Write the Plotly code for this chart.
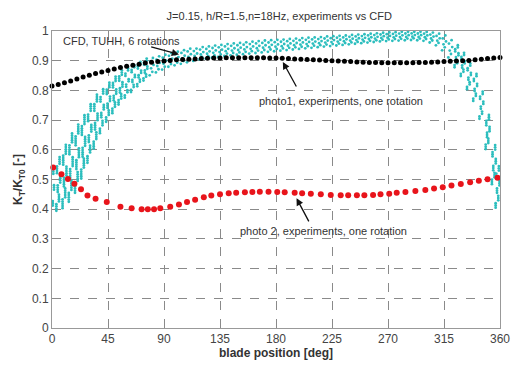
import plotly.graph_objects as go

# ---------------- data ----------------
# CFD (TUHH, 6 rotations): envelope of the cyan band per blade position
cfd_x = [0, 5, 10, 15, 20, 25, 30, 35, 40, 45, 50, 55, 60, 65, 70, 75, 80, 85, 90, 95,
         100, 105, 110, 115, 120, 125, 130, 135, 140, 145, 150, 155, 160, 165, 170, 175,
         180, 185, 190, 195, 200, 205, 210, 215, 220, 225, 230, 235, 240, 245, 250, 255,
         260, 265, 270, 275, 280, 285, 290, 295, 300, 305, 310, 315, 320, 325, 330, 335,
         340, 345, 350, 355, 358]
cfd_lo = [0.38, 0.39, 0.40, 0.42, 0.45, 0.50, 0.55, 0.60, 0.65, 0.69, 0.72, 0.75, 0.77, 0.79,
          0.81, 0.83, 0.845, 0.855, 0.865, 0.875, 0.88, 0.885, 0.89, 0.895, 0.90, 0.903,
          0.906, 0.909, 0.912, 0.914, 0.916, 0.918, 0.92, 0.922, 0.924, 0.926, 0.928, 0.93,
          0.932, 0.934, 0.936, 0.938, 0.94, 0.942, 0.944, 0.946, 0.948, 0.95, 0.952, 0.954,
          0.956, 0.958, 0.96, 0.962, 0.963, 0.964, 0.965, 0.966, 0.967, 0.966, 0.964, 0.958,
          0.948, 0.93, 0.905, 0.875, 0.845, 0.80, 0.76, 0.70, 0.60, 0.48, 0.40]
cfd_hi = [0.54, 0.58, 0.62, 0.66, 0.69, 0.72, 0.76, 0.79, 0.81, 0.83, 0.85, 0.87, 0.88, 0.89,
          0.90, 0.91, 0.915, 0.92, 0.925, 0.93, 0.935, 0.94, 0.945, 0.945, 0.95, 0.952,
          0.955, 0.957, 0.96, 0.962, 0.964, 0.966, 0.968, 0.97, 0.972, 0.973, 0.974, 0.975,
          0.977, 0.978, 0.98, 0.981, 0.982, 0.983, 0.985, 0.986, 0.987, 0.988, 0.99, 0.991,
          0.992, 0.994, 0.995, 0.997, 0.998, 0.999, 1.0, 1.0, 1.0, 1.0, 1.0, 0.998,
          0.995, 0.99, 0.975, 0.955, 0.93, 0.895, 0.86, 0.80, 0.72, 0.62, 0.55]
n_rot = 6

# photo1, experiments, one rotation (black)
p1_x = list(range(0, 361, 5))
p1_y = [0.815, 0.820, 0.826, 0.832, 0.838, 0.845, 0.851, 0.857, 0.862, 0.867, 0.872, 0.877,
        0.881, 0.885, 0.888, 0.892, 0.895, 0.897, 0.899, 0.901, 0.903, 0.904, 0.905, 0.906,
        0.907, 0.908, 0.909, 0.909, 0.910, 0.910, 0.910, 0.910, 0.910, 0.910, 0.910, 0.909,
        0.909, 0.908, 0.907, 0.906, 0.905, 0.904, 0.903, 0.902, 0.901, 0.900, 0.899, 0.898,
        0.897, 0.896, 0.895, 0.894, 0.894, 0.893, 0.893, 0.893, 0.893, 0.893, 0.893, 0.894,
        0.894, 0.895, 0.896, 0.897, 0.898, 0.899, 0.900, 0.901, 0.903, 0.905, 0.907, 0.909,
        0.911]

# photo 2, experiments, one rotation (red)
p2_x = [1, 7.6, 12.8, 18, 23.3, 28.5, 35, 44, 55, 64, 72, 77, 82, 87, 95, 102, 108.5, 115,
        122, 128, 135, 142, 148, 155, 161, 167, 174, 181, 187, 195, 201, 208, 216, 224, 232,
        238, 245, 251, 258, 264, 271, 277, 284, 292, 300, 307, 314, 321, 328.5, 336, 343,
        350, 358]
p2_y = [0.540, 0.518, 0.502, 0.486, 0.467, 0.446, 0.435, 0.424, 0.408, 0.403, 0.400, 0.400,
        0.400, 0.403, 0.408, 0.416, 0.424, 0.432, 0.440, 0.446, 0.450, 0.454, 0.455, 0.457,
        0.458, 0.459, 0.459, 0.458, 0.457, 0.455, 0.454, 0.452, 0.450, 0.448, 0.447, 0.447,
        0.447, 0.447, 0.448, 0.450, 0.452, 0.455, 0.458, 0.461, 0.465, 0.470, 0.474, 0.480,
        0.485, 0.491, 0.496, 0.501, 0.506]

x_ticks = [0, 45, 90, 135, 180, 225, 270, 315, 360]
y_ticks = [0, 0.1, 0.2, 0.3, 0.4, 0.5, 0.6, 0.7, 0.8, 0.9, 1]

# ---------------- figure ----------------
fig = go.Figure()

# pixel scale of the y axis (plot height 308 px for 1.0)
PX = 1.0 / 308
rot_shift = [-1.5, 0.6, -0.4, 1.6, -1.0, 1.1]   # horizontal jitter per rotation (deg)

cx, cy = [], []
for k in range(n_rot):
    for x, lo, hi in zip(cfd_x, cfd_lo, cfd_hi):
        xc = x + rot_shift[k]
        yc = lo + (hi - lo) * (k + 0.5) / n_rot
        dash_px = min(12, max(2, (hi - lo) / PX / n_rot * 0.95))
        nd = max(1, int(round(dash_px / 2.3)))
        for j in range(nd):
            cx.append(xc)
            cy.append(yc + (j - (nd - 1) / 2) * 2.3 * PX)
fig.add_trace(go.Scatter(
    x=cx, y=cy, mode="markers",
    marker=dict(symbol="circle", size=2.8, color="#2CBEBE", line=dict(width=0)),
    showlegend=False, hoverinfo="skip"))

fig.add_trace(go.Scatter(
    x=p1_x, y=p1_y, mode="markers", cliponaxis=False,
    marker=dict(color="black", size=5), showlegend=False))
fig.add_trace(go.Scatter(
    x=p2_x, y=p2_y, mode="markers", cliponaxis=False,
    marker=dict(color="#E8141B", size=6), showlegend=False))

txt_font = dict(family="Liberation Sans, Arial, sans-serif", size=11, color="#333")

fig.add_annotation(x=7.5, y=0.965, xref="x", yref="y", text="CFD, TUHH, 6 rotations",
                   showarrow=False, xanchor="left", yanchor="middle", font=txt_font)
fig.add_annotation(x=232, y=0.766, xref="x", yref="y", text="photo1, experiments, one rotation",
                   showarrow=False, xanchor="center", yanchor="middle", font=txt_font)
fig.add_annotation(x=218, y=0.328, xref="x", yref="y", text="photo 2, experiments, one rotation",
                   showarrow=False, xanchor="center", yanchor="middle", font=txt_font)
for (tx, ty, hx, hy) in [(78.5, 0.948, 102, 0.921), (197, 0.808, 185.5, 0.896),
                         (207, 0.354, 196.5, 0.437)]:
    fig.add_annotation(x=hx, y=hy, ax=tx, ay=ty, xref="x", yref="y", axref="x", ayref="y",
                       text="", showarrow=True, arrowhead=2, arrowsize=1.1,
                       arrowwidth=1.3, arrowcolor="#111")

fig.update_layout(
    width=522, height=369,
    margin=dict(l=52, r=12, t=31, b=30),
    paper_bgcolor="white", plot_bgcolor="white",
    font=dict(family="Liberation Sans, Arial, sans-serif", size=12, color="#333"),
    title=dict(text="J=0.15, h/R=1.5,n=18Hz, experiments vs CFD",
               x=0.535, xanchor="center", y=0.955, yanchor="middle",
               font=dict(size=11, color="#333")),
)
fig.update_xaxes(range=[0, 360], tickvals=x_ticks, ticktext=[str(t) for t in x_ticks],
                 showgrid=True, gridcolor="#8a8a8a", griddash="dash", gridwidth=1,
                 showline=True, linecolor="#999", linewidth=1, mirror=True,
                 zeroline=False, ticks="", ticklen=0,
                 title=dict(text="<b>blade position [deg]</b>", standoff=2,
                            font=dict(size=12, color="#333")),
                 tickfont=dict(size=12, color="#444"))
fig.update_yaxes(range=[0, 1], tickvals=y_ticks, ticktext=[("%g" % t) for t in y_ticks],
                 showgrid=True, gridcolor="#8a8a8a", griddash="dash", gridwidth=1,
                 showline=True, linecolor="#999", linewidth=1, mirror=True,
                 zeroline=False, ticks="",
                 title=dict(text="<b>K<sub>T</sub>/K<sub>T0</sub> [-]</b>", standoff=6,
                            font=dict(size=12, color="#333")),
                 tickfont=dict(size=12, color="#444"))

fig.write_html("out.html")
